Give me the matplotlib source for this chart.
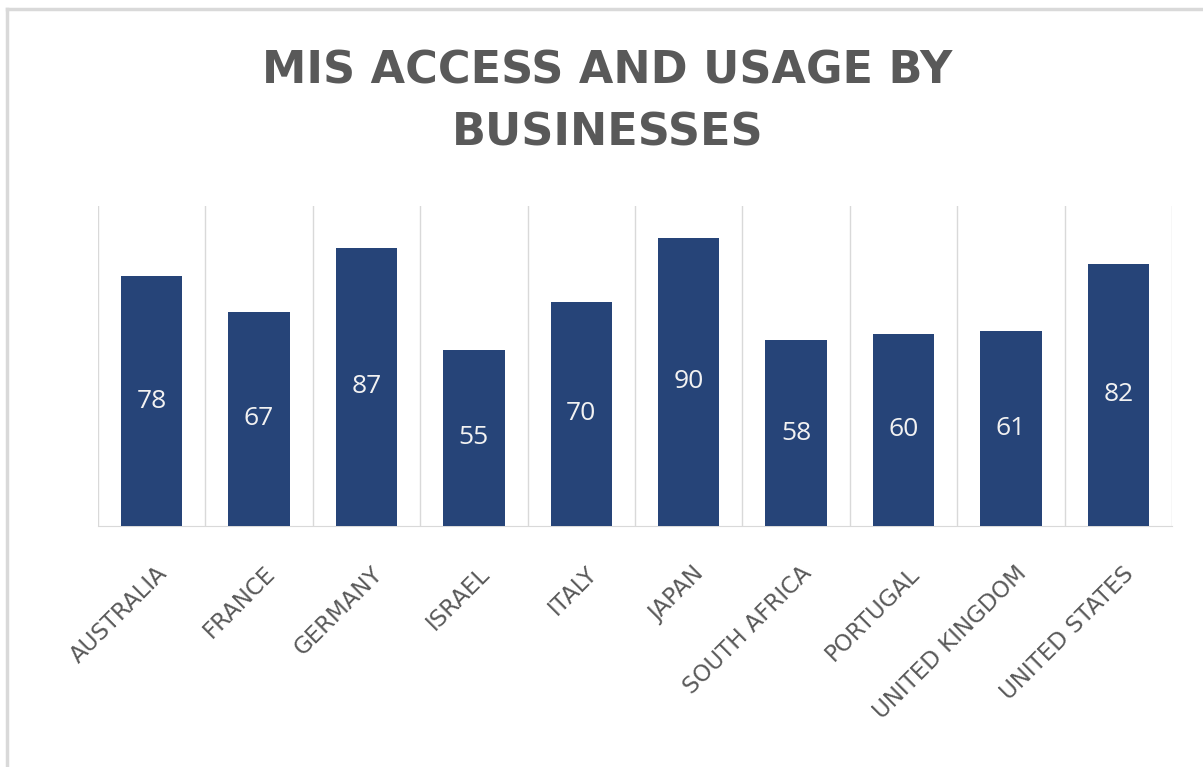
import matplotlib.pyplot as plt
from matplotlib.lines import Line2D
from matplotlib.transforms import ScaledTranslation

# Chart data
countries = ["AUSTRALIA", "FRANCE", "GERMANY", "ISRAEL", "ITALY", "JAPAN",
             "SOUTH AFRICA", "PORTUGAL", "UNITED KINGDOM", "UNITED STATES"]
usage = [78, 67, 87, 55, 70, 90, 58, 60, 61, 82]

bar_color = "#264478"
text_gray = "#595959"
grid_gray = "#d9d9d9"

plt.rcParams["font.family"] = ["Open Sans", "DejaVu Sans"]

fig = plt.figure(figsize=(12.03, 7.67), dpi=100)
ax = fig.add_axes([98 / 1203, 1 - 526 / 767, (1172 - 98) / 1203, (526 - 206) / 767])

x = range(len(countries))
bars = ax.bar(x, usage, width=0.57, color=bar_color, zorder=3)

# Values in the middle of each bar
for b, v in zip(bars, usage):
    ax.text(b.get_x() + b.get_width() / 2, v / 2, str(v), ha="center", va="center",
            color="#f2f2f2", fontsize=19)

ax.set_xlim(-0.5, len(countries) - 0.5)
ax.set_ylim(0, 100)
ax.set_yticks([])

# Vertical separators between categories
for i in range(len(countries) + 1):
    ax.axvline(i - 0.5, color=grid_gray, lw=1, zorder=1)

for side in ["top", "left", "right"]:
    ax.spines[side].set_visible(False)
ax.spines["bottom"].set_color(grid_gray)

ax.set_xticks(list(x))
ax.set_xticklabels(countries, rotation=45, ha="right", va="top",
                   rotation_mode="anchor", fontsize=16.5, color=text_gray,
                   family=["DejaVu Sans"])
ax.tick_params(axis="x", length=0, pad=26)
shift = ScaledTranslation(4 / 100, 0, fig.dpi_scale_trans)
for lbl in ax.get_xticklabels():
    lbl.set_transform(lbl.get_transform() + shift)

fig.text(0.505, 1 - 102 / 767, "MIS ACCESS AND USAGE BY\nBUSINESSES", ha="center",
         va="center", fontsize=32, fontweight="bold", color=text_gray,
         linespacing=1.55, family=["DejaVu Sans"])

# Outer chart frame (top and left edges visible)
fig.add_artist(Line2D([7 / 1203, 1], [1 - 9 / 767, 1 - 9 / 767], color="#d9d9d9", lw=2.5))
fig.add_artist(Line2D([7 / 1203, 7 / 1203], [0, 1 - 9 / 767], color="#d9d9d9", lw=2.5))

fig.savefig("out.png", dpi=100, facecolor="white")
